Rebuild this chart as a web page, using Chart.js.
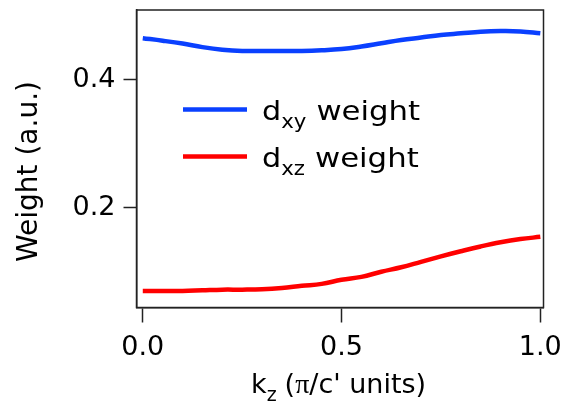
<!DOCTYPE html>
<html>
<head>
<meta charset="utf-8">
<script src="https://cdn.jsdelivr.net/npm/chart.js@4/dist/chart.umd.min.js"></script>
<style>
  body { margin: 0; background: #fff; }
  canvas { display: block; }
</style>
</head>
<body>
<canvas id="weightChart" width="564" height="403"></canvas>
<script>
// kz in pi/c' units, orbital weights
const kz = [0.00, 0.05, 0.10, 0.15, 0.20, 0.25, 0.30, 0.35, 0.40, 0.45, 0.50,
            0.55, 0.60, 0.65, 0.70, 0.75, 0.80, 0.85, 0.90, 0.95, 1.00];
const dxyWeight = [0.465, 0.461, 0.4565, 0.451, 0.447, 0.445, 0.445, 0.445, 0.445, 0.446, 0.448,
                   0.452, 0.457, 0.462, 0.466, 0.470, 0.4725, 0.475, 0.476, 0.4755, 0.4725];
const dxzWeight = [0.070, 0.070, 0.070, 0.071, 0.072, 0.072, 0.0725, 0.0745, 0.078, 0.081, 0.0875,
                   0.092, 0.100, 0.107, 0.1155, 0.124, 0.132, 0.1395, 0.146, 0.151, 0.1545];
const xTicks = [0.0, 0.5, 1.0];
const yTicks = [0.2, 0.4];

const BLUE = '#0a40ff';
const RED = '#ff0000';
const INK = '#000';
const FONT = 'DejaVu Sans';

function toPoints(ys) {
  return kz.map((k, i) => ({ x: k, y: ys[i] }));
}

// text with a horizontal stretch, returns advance width
function stretchedText(ctx, txt, x, y, size, sx, family) {
  ctx.font = size + 'px "' + (family || FONT) + '"';
  ctx.save();
  ctx.translate(x, y);
  ctx.scale(sx, 1);
  ctx.fillText(txt, 0, 0);
  ctx.restore();
  return ctx.measureText(txt).width * sx;
}

// box around the plot area
const framePlugin = {
  id: 'frame',
  afterDatasetsDraw(chart) {
    const { ctx, chartArea: a } = chart;
    ctx.save();
    ctx.strokeStyle = '#222';
    ctx.lineWidth = 1.5;
    ctx.strokeRect(a.left, a.top, a.right - a.left, a.bottom - a.top);
    ctx.restore();
  }
};

// legend and axis titles (they need subscripts)
const textPlugin = {
  id: 'labels',
  afterDraw(chart) {
    const ctx = chart.ctx;
    ctx.save();
    ctx.fillStyle = INK;
    ctx.textBaseline = 'alphabetic';
    ctx.textAlign = 'left';

    // legend
    const rows = [109.5, 156.5];
    chart.data.datasets.forEach((ds, i) => {
      const ly = rows[i];
      ctx.strokeStyle = ds.borderColor;
      ctx.lineWidth = 4.5;
      ctx.beginPath();
      ctx.moveTo(183, ly);
      ctx.lineTo(247, ly);
      ctx.stroke();
      let x = 262;
      const base = ly + 10.5;
      x += stretchedText(ctx, ds.main, x, base, 27, 1.12);
      x += stretchedText(ctx, ds.sub, x, base + 8, 19, 1.12);
      x += 10;
      stretchedText(ctx, ds.rest, x, base, 27, 1.14);
    });

    // x title
    let x = 251;
    x += stretchedText(ctx, 'k', x, 393, 27, 1.0);
    x += stretchedText(ctx, 'z', x, 401, 19, 1.0);
    x += 8;
    x += stretchedText(ctx, '(', x, 393, 27, 1.0);
    x += stretchedText(ctx, 'π', x, 393, 28, 1.0, 'Liberation Serif');
    stretchedText(ctx, "/c' units)", x, 393, 27, 1.0);

    // y title
    ctx.save();
    ctx.translate(37, 171.5);
    ctx.rotate(-Math.PI / 2);
    ctx.textAlign = 'center';
    ctx.font = '28px "' + FONT + '"';
    ctx.fillText('Weight (a.u.)', 0, 0);
    ctx.restore();

    ctx.restore();
  }
};

new Chart(document.getElementById('weightChart').getContext('2d'), {
  type: 'line',
  data: {
    datasets: [
      { label: 'dxy weight', main: 'd', sub: 'xy', rest: 'weight',
        data: toPoints(dxyWeight), borderColor: BLUE, borderWidth: 4.5,
        pointRadius: 0, tension: 0.4, fill: false },
      { label: 'dxz weight', main: 'd', sub: 'xz', rest: 'weight',
        data: toPoints(dxzWeight), borderColor: RED, borderWidth: 4.5,
        pointRadius: 0, tension: 0.4, fill: false }
    ]
  },
  options: {
    responsive: false,
    animation: false,
    layout: { padding: { top: 10, right: 20.5, left: 0, bottom: 0 } },
    plugins: { legend: { display: false }, tooltip: { enabled: false } },
    scales: {
      x: {
        type: 'linear', min: -0.0158, max: 1.008,
        afterBuildTicks: s => { s.ticks = xTicks.map(v => ({ value: v })); },
        afterFit: s => { s.height = 95.5; s.paddingLeft = 0; s.paddingRight = 0; },
        grid: { drawOnChartArea: false, tickLength: 15, tickColor: '#222', tickWidth: 1.5 },
        border: { color: '#222', width: 1.5 },
        ticks: { font: { family: FONT, size: 27 }, color: INK, padding: 9, maxRotation: 0,
                 callback: v => v.toFixed(1) }
      },
      y: {
        min: 0.0441, max: 0.509,
        afterBuildTicks: s => { s.ticks = yTicks.map(v => ({ value: v })); },
        afterFit: s => { s.width = 136.5; s.paddingTop = 0; s.paddingBottom = 0; },
        grid: { drawOnChartArea: false, tickLength: 13, tickColor: '#222', tickWidth: 1.5 },
        border: { color: '#222', width: 1.5 },
        ticks: { font: { family: FONT, size: 27 }, color: INK, padding: 8,
                 callback: v => v.toFixed(1) }
      }
    }
  },
  plugins: [framePlugin, textPlugin]
});
</script>
</body>
</html>
